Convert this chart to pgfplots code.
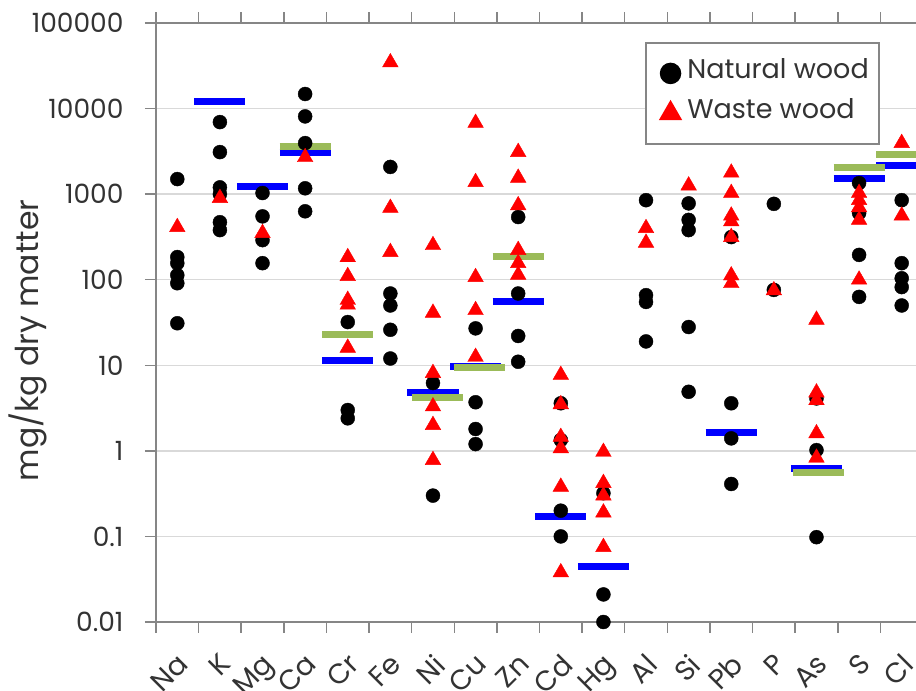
\documentclass[border=0pt]{standalone}
\usepackage{pgfplots}
\pgfplotsset{compat=1.18}
\usepackage{fontspec}
\setmainfont{Poppins}
\definecolor{axgray}{HTML}{868686}
\definecolor{gridgray}{HTML}{D9D9D9}
\definecolor{exred}{HTML}{FF0000}
\definecolor{exblue}{HTML}{0000FF}
\definecolor{exgreen}{HTML}{9BBB59}
\definecolor{txt}{HTML}{333333}
\begin{document}
\fontsize{25bp}{30bp}\selectfont
\begin{tikzpicture}
\begin{axis}[
  at={(0,0)}, anchor=south west,
  scale only axis, width=767bp, height=599bp,
  ymode=log, ymin=0.01, ymax=100000,
  xmin=-0.5, xmax=17.5,
  xtick={0,...,17},
  xticklabels={Na,K,Mg,Ca,Cr,Fe,Ni,Cu,Zn,Cd,Hg,Al,Si,Pb,P,As,S,Cl},
  major x tick style={draw=none},
  minor xtick={-0.5,0.5,...,17.5},
  ytick={0.01,0.1,1,10,100,1000,10000,100000},
  yticklabels={0.01,0.1,1,10,100,1000,10000,100000},
  yminorticks=false,
  tick align=outside,
  major tick length=11bp, minor tick length=11bp,
  tick style={axgray, line width=1.5bp},
  axis line style={axgray, line width=2bp},
  ymajorgrids, major grid style={gridgray, line width=1.5bp},
  ticklabel style={text=txt},
  /pgf/number format/assume math mode=true,
  yticklabel style={font=\fontsize{26.5bp}{30bp}\selectfont, xshift=-13bp},
  xticklabel style={font=\fontsize{28bp}{32bp}\selectfont, xshift=-1bp, yshift=-19bp, rotate=45, anchor=north east, inner sep=0pt},
  ylabel={mg/kg dry matter},
  ylabel style={at={(axis description cs:-0.167,0.47)}, anchor=center, font=\fontsize{31.5bp}{36bp}\selectfont, text=txt},
  legend style={at={(0.6376,0.968)}, anchor=north west, draw=axgray, line width=1.5bp,
    inner xsep=8bp, inner ysep=14bp, row sep=7bp, nodes={inner sep=2bp, text depth=9bp},
    font=\fontsize{27bp}{32bp}\selectfont, text=txt},
  legend cell align=left,
  legend image code/.code={\path (0bp,0bp) (30bp,0bp); \draw[#1] plot coordinates {(16bp,0bp)};},
  unbounded coords=jump,
  clip=true,
]
\addplot[only marks, mark=*, mark size=7bp, black, legend image post style={mark size=10bp}] table[row sep=\\] {
x y\\
0 1500\\ 0 184\\ 0 156\\ 0 113\\ 0 91\\ 0 31\\
1 6950\\ 1 3100\\ 1 1200\\ 1 1000\\ 1 470\\ 1 380\\
2 1030\\ 2 550\\ 2 290\\ 2 156\\
3 14800\\ 3 8100\\ 3 3950\\ 3 1170\\ 3 630\\
4 32\\ 4 3.0\\ 4 2.4\\
5 2080\\ 5 69\\ 5 50\\ 5 26\\ 5 12\\
6 6.2\\ 6 0.30\\
7 27\\ 7 3.7\\ 7 1.8\\ 7 1.2\\
8 540\\ 8 69\\ 8 22\\ 8 11\\
9 3.6\\ 9 1.34\\ 9 0.2\\ 9 0.1\\
10 0.32\\ 10 0.021\\ 10 0.01\\
11 850\\ 11 66\\ 11 55\\ 11 19\\
12 780\\ 12 500\\ 12 380\\ 12 28\\ 12 4.9\\
13 315\\ 13 3.6\\ 13 1.4\\ 13 0.41\\
14 770\\ 14 76\\
15 4.1\\ 15 1.02\\ 15 0.098\\
16 1350\\ 16 600\\ 16 195\\ 16 63\\
17 850\\ 17 156\\ 17 104\\ 17 82\\ 17 50\\
};
\addlegendentry{Natural wood}
\addplot[only marks, mark=triangle*, mark size=9bp, exred, legend image post style={mark size=12bp}] table[row sep=\\] {
x y\\
0 411\\
1 900\\
2 350\\
3 2700\\
4 183\\ 4 110\\ 4 58\\ 4 51\\ 4 16\\
5 34600\\ 5 690\\ 5 210\\
6 253\\ 6 41\\ 6 8.1\\ 6 3.3\\ 6 2.0\\ 6 0.78\\
7 6800\\ 7 1380\\ 7 107\\ 7 44\\ 7 12.5\\
8 3100\\ 8 1550\\ 8 740\\ 8 222\\ 8 156\\ 8 114\\
9 7.7\\ 9 3.5\\ 9 1.45\\ 9 1.07\\ 9 0.38\\ 9 0.038\\
10 0.97\\ 10 0.42\\ 10 0.3\\ 10 0.19\\ 10 0.075\\
11 400\\ 11 270\\
12 1260\\
13 1780\\ 13 1030\\ 13 560\\ 13 480\\ 13 315\\ 13 112\\ 13 91\\
14 75\\
15 34\\ 15 4.8\\ 15 3.9\\ 15 1.6\\ 15 0.83\\
16 1030\\ 16 850\\ 16 700\\ 16 500\\ 16 100\\
17 3950\\ 17 560\\
};
\addlegendentry{Waste wood}
% blue reference bars
\addplot[exblue, line width=7bp, forget plot] coordinates {
(0.4,11940) (1.6,11940) (1,nan)
(1.4,1213) (2.6,1213) (2,nan)
(2.4,3027) (3.6,3027) (3,nan)
(3.4,11.5) (4.6,11.5) (4,nan)
(5.4,4.87) (6.6,4.87) (6,nan)
(6.4,9.8) (7.6,9.8) (7,nan)
(7.4,55) (8.6,55) (8,nan)
(8.4,0.173) (9.6,0.173) (9,nan)
(9.4,0.045) (10.6,0.045) (10,nan)
(12.4,1.66) (13.6,1.66) (13,nan)
(14.4,0.63) (15.6,0.63) (15,nan)
(15.4,1503) (16.6,1503) (16,nan)
(16.4,2190) (17.6,2190)
};
% green reference bars
\addplot[exgreen, line width=7bp, forget plot] coordinates {
(2.4,3557) (3.6,3557) (3,nan)
(3.4,23.2) (4.6,23.2) (4,nan)
(5.5,4.15) (6.7,4.15) (6,nan)
(6.5,9.3) (7.7,9.3) (7,nan)
(7.4,189) (8.6,189) (8,nan)
(14.45,0.566) (15.65,0.566) (15,nan)
(15.4,2023) (16.6,2023) (16,nan)
(16.4,2870) (17.6,2870)
};
\end{axis}
\pgfresetboundingbox
\path[use as bounding box] (-156bp,-69bp) rectangle (760bp,622bp);
\end{tikzpicture}
\end{document}
